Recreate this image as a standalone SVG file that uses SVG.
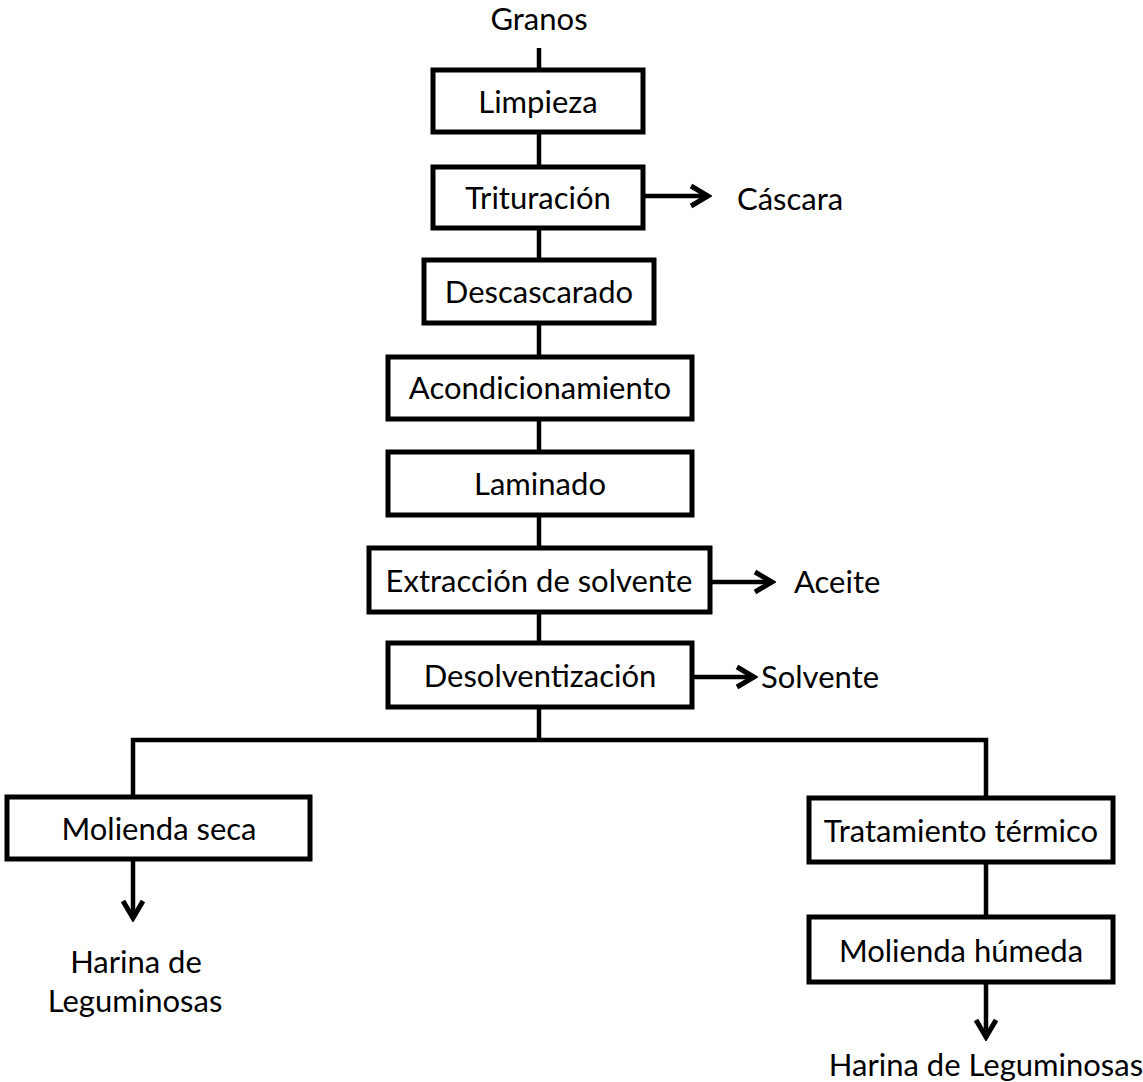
<svg xmlns="http://www.w3.org/2000/svg" width="1143" height="1082" viewBox="0 0 1143 1082">
  <style>
    .box { fill: #ffffff; stroke: #000000; stroke-width: 5; }
    .link { fill: none; stroke: #000000; stroke-width: 4.5; stroke-linejoin: miter; }
    .arrow { fill: none; stroke: #000000; stroke-width: 4.5; marker-end: url(#chev); }
    text { font-family: Lato, "Open Sans", "Liberation Sans", sans-serif; font-size: 31px; fill: #000000; }
    .c { text-anchor: middle; }
  </style>
  <defs>
    <marker id="chev" viewBox="0 0 26 26" refX="22" refY="13" markerWidth="26" markerHeight="26" markerUnits="userSpaceOnUse" orient="auto">
      <path d="M5,3 L22,13 L5,23" fill="none" stroke="#000000" stroke-width="5" stroke-linejoin="miter"/>
    </marker>
  </defs>

  <!-- input -->
  <g id="granos">
    <text class="c" x="539" y="30">Granos</text>
  </g>

  <!-- connectors -->
  <g id="connectors">
    <line class="link" x1="539" y1="48" x2="539" y2="70"/>
    <line class="link" x1="539" y1="132" x2="539" y2="167"/>
    <line class="link" x1="539" y1="228" x2="539" y2="260"/>
    <line class="link" x1="539" y1="323" x2="539" y2="357"/>
    <line class="link" x1="539" y1="419" x2="539" y2="452"/>
    <line class="link" x1="539" y1="515" x2="539" y2="548"/>
    <line class="link" x1="539" y1="612" x2="539" y2="643"/>
    <line class="link" x1="539" y1="707" x2="539" y2="740"/>
    <polyline class="link" points="133,797 133,740 986,740 986,798"/>
    <line class="link" x1="986" y1="862" x2="986" y2="917"/>
    <!-- side outputs -->
    <line class="arrow" x1="643" y1="196" x2="708" y2="196"/>
    <line class="arrow" x1="710" y1="582" x2="772" y2="582"/>
    <line class="arrow" x1="692" y1="677" x2="754" y2="677"/>
    <!-- final products -->
    <line class="arrow" x1="133" y1="859" x2="133" y2="918"/>
    <line class="arrow" x1="986" y1="982" x2="986" y2="1037"/>
  </g>

  <!-- process steps -->
  <g id="limpieza">
    <rect class="box" x="433" y="70" width="210" height="62"/>
    <text class="c" x="538" y="113">Limpieza</text>
  </g>
  <g id="trituracion">
    <rect class="box" x="433" y="167" width="210" height="61"/>
    <text class="c" x="538" y="209">Trituración</text>
  </g>
  <g id="descascarado">
    <rect class="box" x="424" y="260" width="230" height="63"/>
    <text class="c" x="539" y="303">Descascarado</text>
  </g>
  <g id="acondicionamiento">
    <rect class="box" x="388" y="357" width="304" height="62"/>
    <text class="c" x="540" y="399">Acondicionamiento</text>
  </g>
  <g id="laminado">
    <rect class="box" x="388" y="452" width="304" height="63"/>
    <text class="c" x="540" y="495">Laminado</text>
  </g>
  <g id="extraccion">
    <rect class="box" x="369" y="548" width="341" height="64"/>
    <text class="c" x="539" y="592">Extracción de solvente</text>
  </g>
  <g id="desolventizacion">
    <rect class="box" x="388" y="643" width="304" height="64"/>
    <text class="c" x="540" y="687">Desolventización</text>
  </g>

  <!-- dry branch -->
  <g id="molienda-seca">
    <rect class="box" x="7" y="797" width="303" height="62"/>
    <text class="c" x="159" y="840">Molienda seca</text>
  </g>
  <g id="harina-seca">
    <text class="c" x="136" y="973">Harina de</text>
    <text class="c" x="135" y="1012">Leguminosas</text>
  </g>

  <!-- wet branch -->
  <g id="tratamiento-termico">
    <rect class="box" x="809" y="798" width="304" height="64"/>
    <text class="c" x="961" y="842">Tratamiento térmico</text>
  </g>
  <g id="molienda-humeda">
    <rect class="box" x="809" y="917" width="304" height="65"/>
    <text class="c" x="961" y="962">Molienda húmeda</text>
  </g>
  <g id="harina-humeda">
    <text class="c" x="986" y="1076">Harina de Leguminosas</text>
  </g>

  <!-- by-products -->
  <g id="cascara">
    <text x="737" y="210">Cáscara</text>
  </g>
  <g id="aceite">
    <text x="794" y="593">Aceite</text>
  </g>
  <g id="solvente">
    <text x="761" y="688">Solvente</text>
  </g>
</svg>
